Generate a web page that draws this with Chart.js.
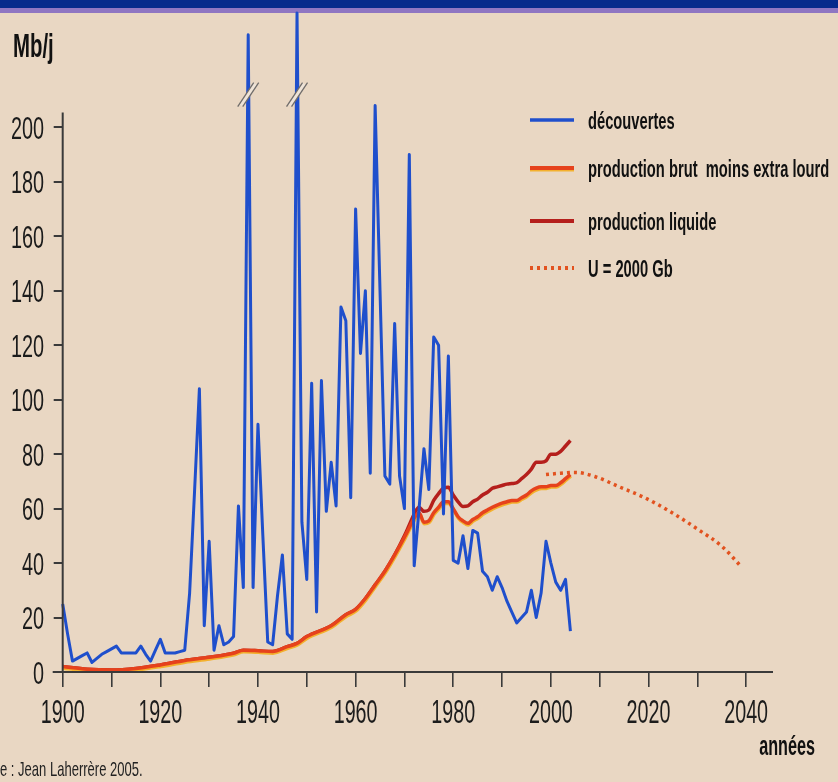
<!DOCTYPE html>
<html>
<head>
<meta charset="utf-8">
<script src="https://cdn.jsdelivr.net/npm/chart.js@4.4.0/dist/chart.umd.min.js"></script>
<style>
html,body{margin:0;padding:0;background:#e9d7c3;overflow:hidden}
#wrap{width:838px;height:782px;position:relative}
canvas{display:block}
</style>
</head>
<body>
<div id="wrap"><canvas id="c" width="838" height="782"></canvas></div>
<script>
// ---------- DATA ----------
const discoveryYears = [1900,1901,1902,1903,1904,1905,1906,1907,1908,1909,1910,1911,1912,1913,1914,1915,1916,1917,1918,1919,
  1920,1921,1922,1923,1924,1925,1926,1927,1928,1929,1930,1931,1932,1933,1934,1935,1936,1937,1938,1939,
  1940,1941,1942,1943,1944,1945,1946,1947,1948,1949,1950,1951,1952,1953,1954,1955,1956,1957,1958,1959,
  1960,1961,1962,1963,1964,1965,1966,1967,1968,1969,1970,1971,1972,1973,1974,1975,1976,1977,1978,1979,
  1980,1981,1982,1983,1984,1985,1986,1987,1988,1989,1990,1991,1992,1993,1994,1995,1996,1997,1998,1999,
  2000,2001,2002,2003,2004];
const discoveryValues = [25,14,4,5,6,7,3.5,5,6.5,7.5,8.5,9.5,7,7,7,7,9.5,6.5,4,8,
  12,7,7,7,7.5,8,29,66,104,17,48,8,17,10,11,13,61,31,234,31,
  91,50,11,10,28,43,14,12,242,55,34,106,22,107,59,77,61,134,129,64,
  170,117,140,73,208,140,72,69,128,72,60,190,39,60,82,67,123,120,58,116,
  41,40,50,38,52,51,37,35,30,35,31,26,22,18,20,22,30,20,29,48,
  40,33,30,34,15];

const productionYears = [1900,1905,1910,1915,1920,1925,1930,1935,1937,1940,1943,1946,1948,1950,1955,1958,1960,1962,1964,1966,1968,
  1970,1971,1972,1973,1974,1975,1976,1977,1978,1979,1980,1981,1982,1983,1984,1985,1986,1987,1988,1989,
  1990,1991,1992,1993,1994,1995,1996,1997,1998,1999,2000,2001,2002,2003,2004];
const liquidValues = [2,1,0.7,1.3,2.6,4.2,5.4,6.9,8,7.8,7.5,9.3,10.5,13,17,21,23,27,32,37,43,
  50,54,58,60.5,59,59.5,63,65.5,67.5,67.8,65,62.5,60.8,61,62.5,63.5,65,66,67.5,68,
  68.5,69,69.2,69.5,71,72.5,74.5,77,77,77.5,80,80,81,83,85];
const crudeValues = [2,1,0.7,1.3,2.6,4.2,5.4,6.9,8,7.8,7.5,9.3,10.5,13,17,21,23,27,32,37,43,
  49.5,53,56.5,58.5,55,55.5,58.5,60.5,62.5,62.5,60,57,55.5,54.6,56,57,58.5,59.5,60.5,61.3,
  62,62.5,63,63,64,65,66.5,67.5,68,68,68.5,68.5,69.5,71,72.5];

const forecastYears = [1999,2002,2005,2009,2014,2019,2025,2030,2035,2039];
const forecastValues = [72.5,73,73.3,71.8,68,64.2,58.3,52.5,46.2,38.7];

const seriesNames = ['découvertes','production brut  moins extra lourd','production liquide','U = 2000 Gb'];
const yTickValues = [0,20,40,60,80,100,120,140,160,180,200];
const xTickValues = [1900,1910,1920,1930,1940,1950,1960,1970,1980,1990,2000,2010,2020,2030,2040];
const xTickLabels = [1900,1920,1940,1960,1980,2000,2020,2040];
const brokenYears = [1938,1948];
const breakValue = 212;
const yTitle = 'Mb/j';
const xTitle = 'années';
const sourceText = 'e : Jean Laherrère 2005.';

// ---------- STYLE ----------
const BG = '#e9d7c3';
const AXIS = '#3a3a3a';
const TEXT = '#1c1c1c';
const BLUE = '#1f4fcc';
const CRUDE = '#e6421c';
const CRUDE_EDGE = '#f3b12e';
const LIQUID = '#b51f1c';
const FORE = '#e2521f';

const toXY = (xs, ys) => xs.map((x, i) => ({x: x, y: ys[i]}));

function drawScaled(ctx, text, x, y, font, sx, align, color) {
  ctx.save();
  ctx.font = font;
  ctx.fillStyle = color;
  ctx.textBaseline = 'alphabetic';
  ctx.textAlign = align;
  ctx.translate(x, y);
  ctx.scale(sx, 1);
  ctx.fillText(text, 0, 0);
  ctx.restore();
}

const bgPlugin = {
  id: 'bg',
  beforeDraw(chart) {
    const ctx = chart.ctx;
    ctx.save();
    ctx.fillStyle = BG;
    ctx.fillRect(0, 0, chart.width, chart.height);
    ctx.fillStyle = '#062a8c';
    ctx.fillRect(0, 0, chart.width, 8);
    ctx.fillStyle = '#8f76c2';
    ctx.fillRect(0, 8, chart.width, 5);
    ctx.restore();
  }
};

const edgePlugin = {
  id: 'edge',
  beforeDatasetDraw(chart, args) {
    if (args.index === 1) {
      const ctx = chart.ctx;
      ctx.save();
      ctx.shadowColor = CRUDE_EDGE;
      ctx.shadowOffsetY = 1.6;
      ctx.shadowOffsetX = 0.4;
      ctx.shadowBlur = 0;
    }
  },
  afterDatasetDraw(chart, args) {
    if (args.index === 1) chart.ctx.restore();
  }
};

const decoPlugin = {
  id: 'deco',
  afterDatasetsDraw(chart) {
    const ctx = chart.ctx;
    const xs = chart.scales.x, ys = chart.scales.y;
    brokenYears.forEach(yr => {
      const px = xs.getPixelForValue(yr);
      const py = ys.getPixelForValue(breakValue);
      ctx.save();
      ctx.lineCap = 'butt';
      ctx.strokeStyle = '#efe4d8';
      ctx.lineWidth = 4;
      ctx.beginPath(); ctx.moveTo(px - 7, py + 11); ctx.lineTo(px + 7, py - 11); ctx.stroke();
      ctx.strokeStyle = '#6f6c6a';
      ctx.lineWidth = 1.3;
      [-2.5, 2.5].forEach(o => {
        ctx.beginPath(); ctx.moveTo(px - 8 + o, py + 12); ctx.lineTo(px + 8 + o, py - 12); ctx.stroke();
      });
      ctx.restore();
    });
  },
  afterDraw(chart) {
    const ctx = chart.ctx;
    const xs = chart.scales.x, ys = chart.scales.y;
    const area = chart.chartArea;
    ctx.save();
    ctx.strokeStyle = AXIS;
    ctx.lineWidth = 2;
    ctx.beginPath();
    ctx.moveTo(area.left, ys.getPixelForValue(0));
    ctx.lineTo(area.left, ys.getPixelForValue(205.5));
    ctx.stroke();
    ctx.beginPath();
    ctx.moveTo(area.left - 10, ys.getPixelForValue(0));
    ctx.lineTo(area.right, ys.getPixelForValue(0));
    ctx.stroke();
    ctx.restore();
    ys.ticks.forEach(t => {
      drawScaled(ctx, String(t.value), 44, ys.getPixelForValue(t.value) + 11.5, '32px "Liberation Sans", Arial, sans-serif', 0.62, 'right', TEXT);
    });
    xs.ticks.forEach(t => {
      if (xTickLabels.indexOf(t.value) >= 0) {
        drawScaled(ctx, String(t.value), xs.getPixelForValue(t.value), 723, '34px "Liberation Sans", Arial, sans-serif', 0.58, 'center', TEXT);
      }
    });
    drawScaled(ctx, yTitle, 13, 57, 'bold 34px "Liberation Sans", Arial, sans-serif', 0.6, 'left', '#111');
    drawScaled(ctx, xTitle, 815, 755, 'bold 27px "Liberation Sans", Arial, sans-serif', 0.6, 'right', '#111');
    drawScaled(ctx, sourceText, 0, 776, '21px "Liberation Sans", Arial, sans-serif', 0.62, 'left', '#222');
    const legY = [120, 168, 221, 268];
    chart.data.datasets.forEach((ds, i) => {
      const y = legY[i];
      ctx.save();
      if (i === 1) { ctx.shadowColor = CRUDE_EDGE; ctx.shadowOffsetY = 1.6; }
      ctx.strokeStyle = ds.borderColor;
      ctx.lineWidth = ds.borderWidth + 0.5;
      ctx.setLineDash(ds.borderDash || []);
      ctx.beginPath(); ctx.moveTo(530, y); ctx.lineTo(574, y); ctx.stroke();
      ctx.restore();
      drawScaled(ctx, ds.label, 588, y + 8.5, 'bold 23px "Liberation Sans", Arial, sans-serif', 0.64, 'left', '#111');
    });
  }
};

new Chart(document.getElementById('c'), {
  type: 'line',
  data: {
    datasets: [
      { label: seriesNames[0], data: toXY(discoveryYears, discoveryValues), borderColor: BLUE, borderWidth: 3, pointRadius: 0, tension: 0, borderJoinStyle: 'round', clip: false },
      { label: seriesNames[1], data: toXY(productionYears, crudeValues), borderColor: CRUDE, borderWidth: 3.5, pointRadius: 0, cubicInterpolationMode: 'monotone', borderJoinStyle: 'round' },
      { label: seriesNames[2], data: toXY(productionYears, liquidValues), borderColor: LIQUID, borderWidth: 3.5, pointRadius: 0, cubicInterpolationMode: 'monotone', borderJoinStyle: 'round' },
      { label: seriesNames[3], data: toXY(forecastYears, forecastValues), borderColor: FORE, borderWidth: 3.5, borderDash: [3, 4], pointRadius: 0, cubicInterpolationMode: 'monotone' }
    ]
  },
  options: {
    responsive: false,
    animation: false,
    events: [],
    layout: { padding: { left: 0, top: 13, right: 65, bottom: 0 } },
    plugins: { legend: { display: false }, tooltip: { enabled: false }, title: { display: false } },
    scales: {
      x: {
        type: 'linear', position: 'bottom', min: 1900, max: 2045.5,
        afterBuildTicks: s => { s.ticks = xTickValues.map(v => ({ value: v })); },
        afterFit: s => { s.height = 110; },
        ticks: { display: false },
        border: { display: false },
        grid: { drawOnChartArea: false, drawTicks: true, tickLength: 15, color: AXIS, lineWidth: 1.6 }
      },
      y: {
        type: 'linear', position: 'left', min: 0, max: 242,
        afterBuildTicks: s => { s.ticks = yTickValues.map(v => ({ value: v })); },
        afterFit: s => { s.width = 62.7; },
        ticks: { display: false },
        border: { display: false },
        grid: { drawOnChartArea: false, drawTicks: true, tickLength: 9, color: AXIS, lineWidth: 2 }
      }
    }
  },
  plugins: [bgPlugin, edgePlugin, decoPlugin]
});
</script>
</body>
</html>
